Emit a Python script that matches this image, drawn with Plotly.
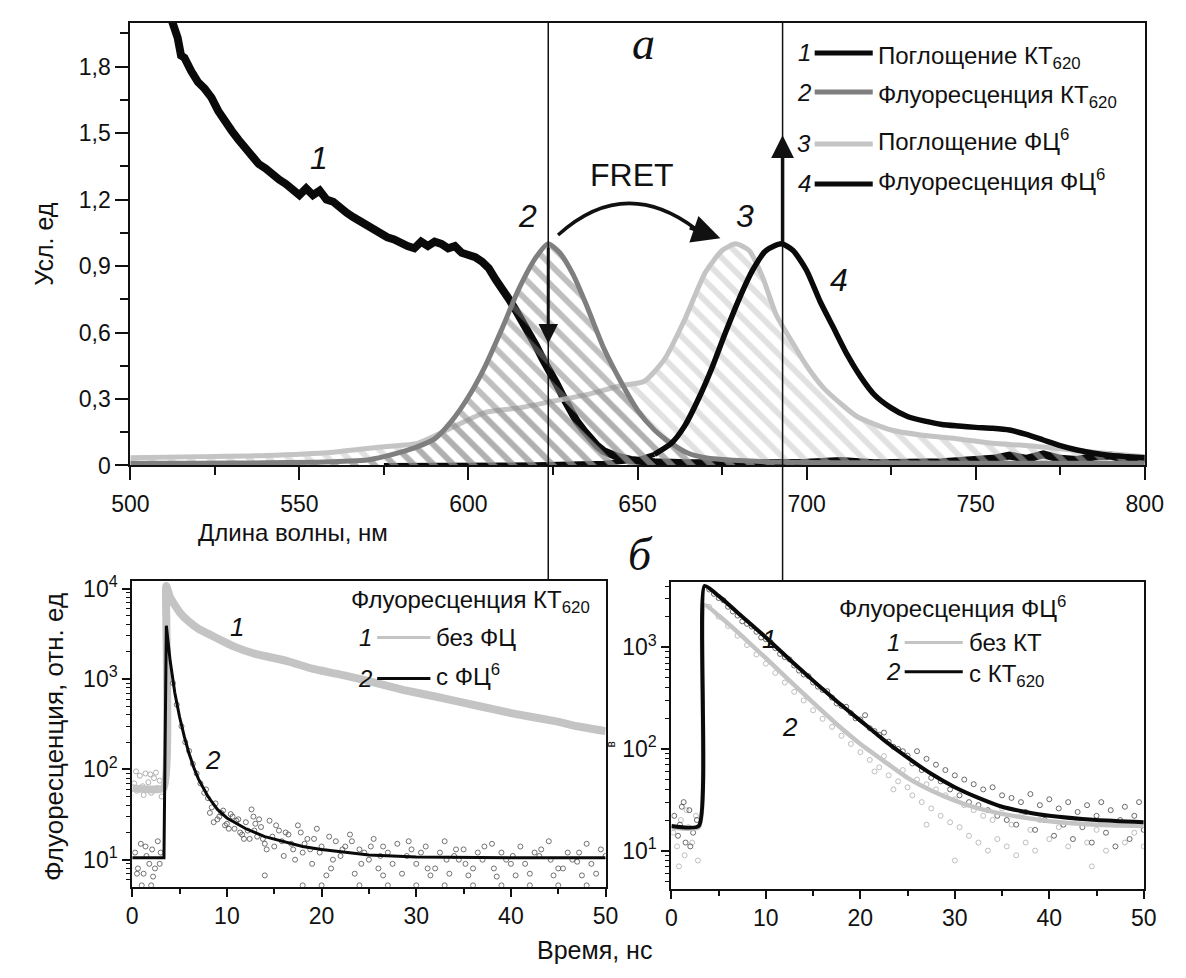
import plotly.graph_objects as go

W, H = 1186, 978
def px(x): return x / W
def py(y): return 1 - y / H

FONT = "Liberation Sans"
SERIF = "Liberation Serif"

# ---------------- top panel data (wavelength, nm) ----------------
wl1 = [512, 514, 515, 516, 518, 520, 522, 524, 526, 528, 530, 532, 534, 536, 538, 540, 542, 544,
       546, 548, 550, 552, 554, 556, 558, 560, 562, 564, 566, 568, 570, 572, 574, 576, 578, 580,
       582, 584, 586, 588, 590, 592, 594, 596, 598, 600, 602, 604, 606, 608, 610, 612, 614, 616,
       618, 620, 622, 624, 626, 628, 630, 632, 634, 636, 638, 640, 644, 648, 655, 665, 680, 700,
       710, 720, 740, 750, 755, 760, 765, 770, 775, 780, 785, 790, 795, 800]
abs_qd = [2.02, 1.93, 1.85, 1.84, 1.78, 1.73, 1.70, 1.66, 1.60, 1.55, 1.51, 1.47, 1.43, 1.40, 1.36,
          1.34, 1.31, 1.29, 1.27, 1.24, 1.22, 1.25, 1.22, 1.24, 1.20, 1.19, 1.16, 1.14, 1.12, 1.10,
          1.08, 1.06, 1.04, 1.03, 1.02, 1.00, 0.99, 0.98, 1.01, 0.99, 1.01, 1.00, 0.98, 0.99, 0.96,
          0.95, 0.94, 0.92, 0.89, 0.84, 0.80, 0.75, 0.70, 0.65, 0.60, 0.54, 0.48, 0.43, 0.37, 0.31,
          0.25, 0.20, 0.16, 0.12, 0.09, 0.065, 0.04, 0.025, 0.015, 0.01, 0.01, 0.012, 0.02, 0.01,
          0.015, 0.02, 0.03, 0.045, 0.03, 0.05, 0.03, 0.025, 0.04, 0.045, 0.025, 0.03]

wl2 = [500, 520, 540, 555, 565, 570, 575, 580, 585, 590, 595, 600, 605, 610, 615, 620, 623.5, 627,
       631, 635, 640, 645, 650, 655, 660, 665, 670, 680, 690, 700, 720, 750, 780, 800]
fl_qd = [0.01, 0.01, 0.012, 0.015, 0.02, 0.025, 0.04, 0.06, 0.085, 0.12, 0.2, 0.31, 0.45, 0.62, 0.8,
         0.94, 1.0, 0.96, 0.86, 0.72, 0.53, 0.38, 0.25, 0.16, 0.1, 0.055, 0.035, 0.022, 0.016, 0.014,
         0.012, 0.01, 0.01, 0.01]

wl3 = [500, 520, 540, 560, 575, 585, 595, 605, 615, 625, 635, 645, 652, 658, 664, 670, 675, 679, 683,
       687, 691, 696, 700, 705, 710, 715, 725, 735, 745, 755, 765, 775, 785, 800]
abs_pc = [0.035, 0.04, 0.045, 0.06, 0.085, 0.1, 0.17, 0.24, 0.26, 0.29, 0.32, 0.36, 0.38, 0.48, 0.66,
          0.87, 0.97, 1.0, 0.97, 0.85, 0.68, 0.55, 0.45, 0.35, 0.28, 0.22, 0.16, 0.135, 0.12, 0.1,
          0.09, 0.075, 0.06, 0.04]

wl4 = [575, 600, 620, 640, 650, 655, 660, 664, 668, 672, 676, 680, 684, 688, 692.5, 696, 700, 704,
       708, 712, 716, 720, 725, 730, 735, 740, 745, 750, 755, 760, 765, 770, 775, 780, 785, 790, 795, 800]
fl_pc = [0.0, 0.0, 0.003, 0.01, 0.025, 0.05, 0.1, 0.18, 0.3, 0.44, 0.6, 0.75, 0.88, 0.97, 1.0, 0.97,
         0.88, 0.74, 0.62, 0.5, 0.4, 0.32, 0.26, 0.22, 0.2, 0.185, 0.178, 0.172, 0.168, 0.16, 0.14,
         0.115, 0.09, 0.07, 0.055, 0.045, 0.04, 0.035]

# ---------------- bottom-left: QD620 fluorescence decay ----------------
tL1 = [0, 3.3, 3.6, 4.0, 5.0, 6.0, 7.0, 8.2, 9.5, 10.7, 13, 16.4, 19, 22.5, 25.5, 28.6, 32, 36.7,
       40, 44.8, 47, 50]
qd_no_pc = [62, 62, 10700, 8000, 5500, 4300, 3600, 3100, 2650, 2300, 1900, 1580, 1300, 1090, 920, 760,
            640, 500, 420, 340, 300, 265]
tL2 = [0, 3.3, 3.35, 3.6, 4.0, 4.5, 5.0, 5.5, 6.0, 6.5, 7.0, 8.0, 9.0, 10, 11, 12, 14, 16, 18, 20, 22,
       25, 30, 35, 40, 45, 50]
qd_with_pc = [10.5, 10.5, 10.5, 3900, 1600, 700, 380, 230, 150, 105, 78, 50, 36, 29, 25, 22, 18, 16,
              14, 13, 12.2, 11.3, 10.7, 10.5, 10.5, 10.5, 10.5]

sL_gray_t = [0.2, 0.5, 0.8, 1.1, 1.4, 1.7, 2.0, 2.3, 2.6, 2.9, 3.1, 0.4, 1.9, 1.2, 2.5]
sL_gray_v = [70, 58, 85, 65, 90, 72, 55, 80, 62, 75, 50, 95, 88, 52, 92]

sL_blk_t = [0.3, 0.6, 0.9, 1.2, 1.5, 1.8, 2.1, 2.4, 2.7, 3.0, 0.5, 1.4, 2.2, 2.9,
            4.3, 4.7, 5.2, 5.6, 6.0, 6.4, 6.8, 7.2, 7.6, 7.8, 8.0, 8.2, 8.4, 8.8, 9.0, 9.2, 9.6, 9.8,
            10.0, 10.4, 10.6, 10.8, 11.2, 11.4, 11.6, 12.0, 12.2, 12.4, 12.6, 12.8, 13.0, 13.2, 13.6,
            13.8, 14.0, 14.5, 14.8, 15.0, 15.5, 15.8, 16.0, 16.5, 16.8, 17.0, 17.5, 17.8, 18.0, 18.5,
            18.8, 19.0, 19.5, 19.8, 20.0, 20.8, 21, 21.5, 22, 22.5, 23, 23.5, 24, 24.5, 25, 25.5, 26,
            26.5, 27, 28, 28.5, 29, 29.5, 30, 31, 32, 32.5, 33, 33.5, 34, 34.5, 35, 36, 36.5, 37, 38,
            38.5, 39, 39.5, 40, 41, 42, 42.5, 43, 44, 45, 46, 46.5, 47, 48, 49, 49.5, 50,
            1, 2, 18, 20, 24, 27, 30, 33, 36, 39, 42, 45, 48,
            14, 20.5, 26.5, 31.5, 35.5, 40.5, 44.5, 47.5,
            8.6, 9.4, 10.2, 11.0, 11.8, 12.9, 13.4, 14.2, 15.2, 16.2, 17.2, 18.2, 19.2, 21.2, 22.2,
            23.2, 24.2, 25.2, 26.2, 27.5, 29.2, 30.5, 31.2, 33.2, 34.2, 35.2, 37.2, 38.2, 40.2, 41.5,
            43.2, 44.2, 45.5, 47.2, 48.5]
sL_blk_v = [12, 8, 15, 7, 11, 9, 13, 8, 16, 12, 7, 14, 6.5, 9,
            900, 520, 300, 200, 160, 115, 90, 70, 55, 60, 48, 33, 38, 42, 28, 30, 35, 24,
            25, 32, 30, 22, 28, 20, 19, 26, 21, 17, 36, 30, 25, 18, 23,
            17, 15, 27, 18, 14, 21, 16, 11, 19, 15, 13, 24, 20, 12, 17,
            13, 9, 22, 12, 14, 18, 8, 16, 11, 14, 19, 7, 13, 12, 10, 17, 8,
            14, 12, 15, 7, 11, 13, 9, 14, 8, 12, 16, 7, 11, 10, 13, 8, 12, 10, 15,
            6.5, 12, 10, 9, 14, 7, 12, 11, 16, 8, 12, 10, 9.5, 15, 7, 13, 11,
            5.2, 5.2, 5.2, 5.2, 5.2, 5.2, 5.2, 5.2, 5.2, 5.2, 5.2, 5.2, 5.2,
            6.7, 6.7, 6.7, 6.7, 6.7, 6.7, 6.7, 6.7,
            26, 33, 22, 27, 17, 21, 28, 13, 24, 20, 10, 15, 17, 10, 13,
            16, 9, 14, 11, 9, 16, 12, 8, 10, 13, 9, 14, 8, 11, 9,
            13, 10, 8, 12, 9]

# ---------------- bottom-right: PC6 fluorescence decay ----------------
tR = [0, 2.9, 3.5, 5, 7.5, 10, 12.5, 15, 17.5, 20, 22.5, 25, 27.5, 30, 32.5, 35, 37.5, 40, 45, 50]
pc_with_qd = [17.5, 17.5, 4000, 3200, 2000, 1250, 760, 470, 295, 190, 122, 82, 57, 42, 33, 27, 24, 22, 20, 19]
pc_no_qd = [17, 17, 2600, 2050, 1280, 780, 470, 285, 175, 112, 76, 52, 39, 31, 26, 23, 21, 19.5, 18, 17.5]

sR_blk_t = [0.3, 0.7, 1.1, 1.5, 1.9, 2.3, 2.7, 1.3, 2.0, 0.9,
            4, 5, 6, 7, 8, 9, 10, 11, 12, 13, 14, 15, 16, 17, 18, 19, 20, 21, 22, 23, 24, 25,
            20.5, 21.5, 22.5, 23.5, 24.5, 25.5, 26, 26.5, 27, 27.5, 28, 28.5, 29, 29.5, 30, 30.5,
            31, 31.5, 32, 32.5, 33, 33.5, 34, 34.5, 35, 35.5, 36, 36.5, 37, 37.5, 38, 38.5, 39, 39.5,
            40, 40.5, 41, 41.5, 42, 42.5, 43, 43.5, 44, 44.5, 45, 45.5, 46, 46.5, 47, 47.5, 48, 48.5,
            49, 49.5, 50,
            4.5, 5.5, 6.5, 7.5, 8.5, 9.5, 10.5, 11.5, 12.5, 13.5, 14.5, 15.5, 16.5, 17.5, 18.5, 19.5]
sR_blk_v = [22, 14, 27, 12, 25, 15, 20, 30, 11, 18,
            3700, 3050, 2500, 2050, 1700, 1420, 1200, 980, 800, 660, 540, 450, 380, 320, 265, 225,
            195, 160, 138, 118, 100, 86,
            215, 150, 145, 105, 95, 72, 95, 62, 80, 52, 70, 48, 62, 40, 55, 35, 50, 30, 45, 28, 40,
            25, 42, 22, 35, 20, 33, 18, 30, 24, 36, 16, 28, 20, 32, 14, 26, 18, 30, 13, 24, 17, 28,
            12, 22, 30, 15, 25, 11, 20, 27, 13, 22, 30, 16,
            3350, 2900, 2250, 1800, 1600, 1250, 1120, 860, 760, 590, 520, 410, 370, 280, 260, 200]

sR_gray_t = [0.2, 0.6, 1.0, 1.4, 1.8, 2.2, 2.6, 0.8, 2.8, 1.6,
             4, 5, 6, 7, 8, 9, 10, 11, 12, 13, 14, 15, 16, 17, 18, 19, 20, 21, 22, 23, 24, 25,
             21.5, 22.5, 23.5, 24.5, 25.5, 26, 26.5, 27, 27.5, 28, 28.5, 29, 29.5, 30, 30.5, 31, 31.5,
             32, 32.5, 33, 33.5, 34, 34.5, 35, 35.5, 36, 36.5, 37, 37.5, 38, 38.5, 39, 40, 41, 42,
             43, 44, 44.5, 45, 46, 47, 48, 49, 50, 27, 30]
sR_gray_v = [15, 11, 20, 9, 17, 12, 22, 7, 8, 25,
             2500, 2000, 1620, 1300, 1050, 850, 690, 560, 450, 365, 300, 240, 198, 165, 135, 112,
             93, 78, 66, 55, 48, 42,
             60, 85, 40, 62, 35, 50, 30, 45, 26, 40, 22, 35, 19, 32, 17, 28, 14, 25, 12, 22, 10, 20,
             13, 26, 11, 18, 9, 22, 12, 16, 10, 20, 13, 17, 11, 19, 12, 7, 16, 10, 18, 12, 15, 11,
             18, 8]

# ---------------- colours ----------------
BLACK = "#0a0a0a"
DGRAY = "#7f7f7f"
LGRAY = "#c4c4c4"

fig = go.Figure()

fig.add_trace(go.Scatter(x=wl1, y=abs_qd, mode="lines", line=dict(color=BLACK, width=8),
                         xaxis="x", yaxis="y", showlegend=False))
fig.add_trace(go.Scatter(x=wl4[:6], y=fl_pc[:6], mode="lines", line=dict(color=BLACK, width=5),
                         xaxis="x", yaxis="y", showlegend=False))
fig.add_trace(go.Scatter(x=wl3, y=abs_pc, mode="lines",
                         line=dict(color=LGRAY, width=5, shape="spline", smoothing=0.6),
                         fill="tozeroy", fillcolor="rgba(0,0,0,0)",
                         fillpattern=dict(shape="\\", fgcolor=LGRAY, bgcolor="rgba(0,0,0,0)",
                                          size=14, solidity=0.42),
                         xaxis="x", yaxis="y", showlegend=False))
fig.add_trace(go.Scatter(x=wl2, y=fl_qd, mode="lines",
                         line=dict(color=DGRAY, width=5, shape="spline", smoothing=0.6),
                         fill="tozeroy", fillcolor="rgba(0,0,0,0)",
                         fillpattern=dict(shape="\\", fgcolor=DGRAY, bgcolor="rgba(0,0,0,0)",
                                          size=14, solidity=0.42),
                         xaxis="x", yaxis="y", showlegend=False))
fig.add_trace(go.Scatter(x=wl4[5:], y=fl_pc[5:], mode="lines",
                         line=dict(color=BLACK, width=5.5, shape="spline", smoothing=0.6),
                         xaxis="x", yaxis="y", showlegend=False))

fig.add_trace(go.Scatter(x=sL_gray_t, y=sL_gray_v, mode="markers",
                         marker=dict(symbol="circle-open", size=5, color="#b0b0b0"),
                         xaxis="x2", yaxis="y2", showlegend=False))
fig.add_trace(go.Scatter(x=tL1, y=qd_no_pc, mode="lines",
                         line=dict(color=LGRAY, width=8, shape="spline", smoothing=0.4),
                         xaxis="x2", yaxis="y2", showlegend=False))
fig.add_trace(go.Scatter(x=sL_blk_t, y=sL_blk_v, mode="markers",
                         marker=dict(symbol="circle-open", size=5, color="rgba(70,70,70,0.75)"),
                         xaxis="x2", yaxis="y2", showlegend=False))
fig.add_trace(go.Scatter(x=tL2, y=qd_with_pc, mode="lines", line=dict(color=BLACK, width=3),
                         xaxis="x2", yaxis="y2", showlegend=False))

fig.add_trace(go.Scatter(x=sR_gray_t, y=sR_gray_v, mode="markers",
                         marker=dict(symbol="circle-open", size=5, color="rgba(175,175,175,0.8)"),
                         xaxis="x3", yaxis="y3", showlegend=False))
fig.add_trace(go.Scatter(x=sR_blk_t, y=sR_blk_v, mode="markers",
                         marker=dict(symbol="circle-open", size=5, color="rgba(60,60,60,0.75)"),
                         xaxis="x3", yaxis="y3", showlegend=False))
fig.add_trace(go.Scatter(x=tR, y=pc_no_qd, mode="lines",
                         line=dict(color=LGRAY, width=4.5, shape="spline", smoothing=0.5),
                         xaxis="x3", yaxis="y3", showlegend=False))
fig.add_trace(go.Scatter(x=tR, y=pc_with_qd, mode="lines",
                         line=dict(color=BLACK, width=4, shape="spline", smoothing=0.5),
                         xaxis="x3", yaxis="y3", showlegend=False))

TICKFONT = dict(family=FONT, size=23, color="#111")
axis_common = dict(showline=True, linecolor="#111", linewidth=2, mirror=True, ticks="outside",
                   tickcolor="#111", tickwidth=2, showgrid=False, zeroline=False, tickfont=TICKFONT)

def log_minor(lo, hi):
    vals = []
    for d in range(lo, hi + 1):
        for m in range(2, 10):
            vals.append(m * 10 ** d)
    return vals

fig.update_layout(
    width=W, height=H, margin=dict(l=0, r=0, t=0, b=0), autosize=False,
    paper_bgcolor="white", plot_bgcolor="white", showlegend=False,
    xaxis=dict(domain=[px(115), px(1163)], range=[500, 800], anchor="y",
               tickvals=[500, 550, 600, 650, 700, 750, 800], ticklen=13, ticklabelstandoff=4,
               minor=dict(tickvals=[525, 575, 625, 675, 725, 775], ticklen=8, ticks="outside",
                          tickcolor="#111", tickwidth=2),
               **axis_common),
    yaxis=dict(domain=[py(467), py(14)], range=[0, 1.998], anchor="x",
               tickvals=[0, 0.3, 0.6, 0.9, 1.2, 1.5, 1.8],
               ticktext=["0", "0,3", "0,6", "0,9", "1,2", "1,5", "1,8"], ticklen=13,
               minor=dict(tickvals=[0.15, 0.45, 0.75, 1.05, 1.35, 1.65, 1.95], ticklen=8,
                          ticks="outside", tickcolor="#111", tickwidth=2),
               **axis_common),
    xaxis2=dict(domain=[px(117), px(606)], range=[0, 50], anchor="y2",
                tickvals=[0, 10, 20, 30, 40, 50], ticklen=8,
                minor=dict(tickvals=[5, 15, 25, 35, 45], ticklen=5, ticks="outside",
                           tickcolor="#111", tickwidth=1.5),
                **axis_common),
    yaxis2=dict(domain=[py(898), py(585)], type="log", range=[0.70, 4.087], anchor="x2",
                tickvals=[10, 100, 1000, 10000],
                ticktext=["10<sup>1</sup>", "10<sup>2</sup>", "10<sup>3</sup>", "10<sup>4</sup>"],
                ticklen=8,
                minor=dict(tickvals=log_minor(0, 4), ticklen=4, ticks="outside",
                           tickcolor="#111", tickwidth=1.2),
                **axis_common),
    xaxis3=dict(domain=[px(674), px(1162)], range=[0, 50], anchor="y3",
                tickvals=[0, 10, 20, 30, 40, 50], ticklen=8,
                minor=dict(tickvals=[5, 15, 25, 35, 45], ticklen=5, ticks="outside",
                           tickcolor="#111", tickwidth=1.5),
                **axis_common),
    yaxis3=dict(domain=[py(900), py(586)], type="log", range=[0.625, 3.644], anchor="x3",
                tickvals=[10, 100, 1000],
                ticktext=["10<sup>1</sup>", "10<sup>2</sup>", "10<sup>3</sup>"],
                ticklen=8,
                minor=dict(tickvals=log_minor(0, 3), ticklen=4, ticks="outside",
                           tickcolor="#111", tickwidth=1.2),
                **axis_common),
)

shapes = []
shapes.append(dict(type="line", xref="x", yref="paper", x0=623.6, x1=623.6, y0=py(585), y1=py(14),
                   line=dict(color="#111", width=1.5)))
shapes.append(dict(type="line", xref="x", yref="paper", x0=692.9, x1=692.9, y0=py(586), y1=py(14),
                   line=dict(color="#111", width=1.5)))
shapes.append(dict(type="path", xref="x", yref="y", path="M 626.5,1.04 Q 646,1.31 667,1.07",
                   line=dict(color="#111", width=3.5)))

for yy, col in [(45, BLACK), (85, DGRAY), (138, LGRAY), (179, BLACK)]:
    shapes.append(dict(type="line", xref="paper", yref="paper", x0=px(822), x1=px(882),
                       y0=py(yy), y1=py(yy), line=dict(color=col, width=5)))
for x0, x1, yy, col in [(370, 425, 643, LGRAY), (370, 425, 685, BLACK),
                        (915, 975, 648, LGRAY), (915, 975, 678, BLACK)]:
    shapes.append(dict(type="line", xref="paper", yref="paper", x0=px(x0), x1=px(x1),
                       y0=py(yy), y1=py(yy), line=dict(color=col, width=3)))
fig.update_layout(shapes=shapes)

ann = []
def txt(x, y, s, size=20, family=FONT, xanchor="center", angle=0, italic=False, color="#111"):
    if italic:
        s = "<i>" + s + "</i>"
    ann.append(dict(x=px(x), y=py(y), xref="paper", yref="paper", text=s, showarrow=False,
                    xanchor=xanchor, yanchor="middle", textangle=angle,
                    font=dict(family=family, size=size, color=color)))

txt(645, 35, "а", size=46, family=SERIF, italic=True)
txt(642, 558, "б", size=46, family=SERIF, italic=True)
txt(25, 240, "Усл. ед", size=25, angle=-90)
txt(283, 536, "Длина волны, нм", size=24)
txt(310, 152, "1", size=32, italic=True)
txt(525, 212, "2", size=32, italic=True)
txt(750, 212, "3", size=32, italic=True)
txt(847, 277, "4", size=32, italic=True)
txt(633, 170, "FRET", size=32)

for yy, n, s in [(45, "1", "Поглощение КТ<sub>620</sub>"), (85, "2", "Флуоресценция КТ<sub>620</sub>"),
                 (138, "3", "Поглощение ФЦ<sup>6</sup>"), (179, "4", "Флуоресценция ФЦ<sup>6</sup>")]:
    txt(820, yy, n, size=24, italic=True, xanchor="right")
    txt(885, yy + (5 if "sub" in s else -4), s, size=24, xanchor="left")

txt(341, 606, "Флуоресценция КТ<sub>620</sub>", size=24, xanchor="left")
txt(367, 643, "1", size=24, italic=True, xanchor="right")
txt(429, 643, "без ФЦ", size=24, xanchor="left")
txt(367, 685, "2", size=24, italic=True, xanchor="right")
txt(429, 681, "с ФЦ<sup>6</sup>", size=24, xanchor="left")
txt(225, 632, "1", size=26, italic=True)
txt(200, 768, "2", size=26, italic=True)

txt(845, 612, "Флуоресценция ФЦ<sup>6</sup>", size=24, xanchor="left")
txt(912, 648, "1", size=24, italic=True, xanchor="right")
txt(979, 648, "без КТ", size=24, xanchor="left")
txt(912, 678, "2", size=24, italic=True, xanchor="right")
txt(979, 682, "с КТ<sub>620</sub>", size=24, xanchor="left")
txt(775, 645, "1", size=26, italic=True)
txt(797, 735, "2", size=26, italic=True)

txt(36, 745, "Флуоресценция, отн. ед", size=26, angle=-90)
txt(595, 963, "Время, нс", size=25)
txt(612, 752, "в", size=12, angle=-90)

ann.append(dict(x=623.6, y=0.55, ax=623.6, ay=0.99, xref="x", yref="y", axref="x", ayref="y",
                showarrow=True, arrowhead=2, arrowsize=1.3, arrowwidth=3, arrowcolor="#111", text=""))
ann.append(dict(x=692.9, y=1.49, ax=692.9, ay=1.0, xref="x", yref="y", axref="x", ayref="y",
                showarrow=True, arrowhead=2, arrowsize=1.3, arrowwidth=3.5, arrowcolor="#111", text=""))
ann.append(dict(x=674.5, y=1.025, ax=665, ay=1.075, xref="x", yref="y", axref="x", ayref="y",
                showarrow=True, arrowhead=2, arrowsize=1.6, arrowwidth=3.5, arrowcolor="#111", text=""))

fig.update_layout(annotations=ann)
fig.write_html("out.html", config={"displayModeBar": False, "responsive": False},
               post_script=("document.documentElement.style.margin='0px';"
                            "document.documentElement.style.overflow='hidden';"
                            "document.body.style.margin='0px';"
                            "document.body.style.overflow='hidden';"))
